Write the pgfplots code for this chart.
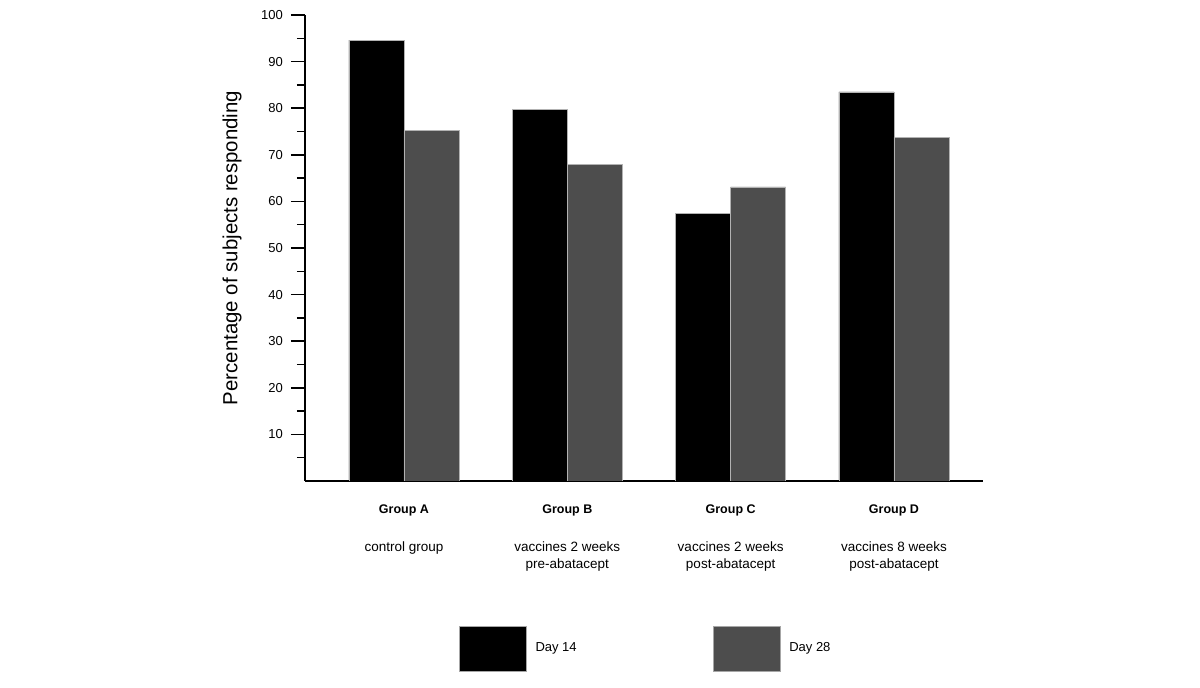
\documentclass[border=0pt]{standalone}
\usepackage{pgfplots}
\pgfplotsset{compat=1.18}
\usepackage{fontspec}
\setmainfont{Liberation Sans}
\definecolor{daytwo}{HTML}{4D4D4D}
\begin{document}
\begin{tikzpicture}
\useasboundingbox (-152.5pt,-103.5pt) rectangle (447.5pt,240.5pt);
\begin{axis}[
  at={(0,0)}, anchor=south west,
  scale only axis,
  width=339pt, height=233pt,
  axis lines=left,
  axis line style={line width=1pt, -},
  xmin=-0.606, xmax=3.545,
  ymin=0, ymax=100,
  ytick={10,20,...,100},
  minor ytick={5,15,...,95},
  tick align=outside,
  major tick length=7pt,
  minor tick length=4pt,
  every tick/.style={line width=0.75pt, black},
  /pgf/number format/assume math mode=true,
  yticklabel style={font=\fontsize{6.5}{7.5}\selectfont, xshift=-0.5pt},
  xtick={0,1,2,3},
  xtick style={draw=none},
  xticklabels={
    {\textbf{\fontsize{6.25}{7}\selectfont Group A}\\[10.5pt]control group},
    {\textbf{\fontsize{6.25}{7}\selectfont Group B}\\[10.5pt]vaccines 2 weeks\\pre-abatacept},
    {\textbf{\fontsize{6.25}{7}\selectfont Group C}\\[10.5pt]vaccines 2 weeks\\post-abatacept},
    {\textbf{\fontsize{6.25}{7}\selectfont Group D}\\[10.5pt]vaccines 8 weeks\\post-abatacept}},
  xticklabel style={font=\fontsize{6.75}{8.5}\selectfont, align=center, anchor=north, yshift=-1.5pt},
  ylabel={Percentage of subjects responding},
  ylabel style={font=\fontsize{10.2}{12}\selectfont, at={(axis description cs:0,0.5)}, anchor=center, yshift=36.5pt},
  ybar, bar width=0.337,
  legend columns=2,
  legend style={draw=none, inner sep=0pt, outer sep=0pt, at={(axis description cs:0.227,-0.36)}, anchor=west,
    font=\fontsize{6.5}{7.5}\selectfont,
    /tikz/every even column/.append style={column sep=66pt}},
  legend image code/.code={\fill[#1, draw=gray!70, line width=0.3pt] (0pt,-11.25pt) rectangle (33.5pt,11.25pt);
    \path (36pt,0pt);},
]
\addplot[fill=black, draw=gray!60, line width=0.3pt, bar shift=-0.1685] coordinates {(0,94.6) (1,79.8) (2,57.5) (3,83.5)};
\addplot[fill=daytwo, draw=gray!60, line width=0.3pt, bar shift=0.1685] coordinates {(0,75.2) (1,68.0) (2,63.1) (3,73.8)};
\legend{Day 14, Day 28}
\end{axis}
\end{tikzpicture}
\end{document}
